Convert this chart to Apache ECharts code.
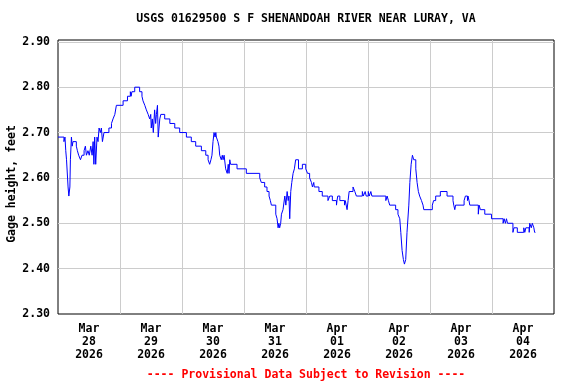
<!DOCTYPE html>
<html><head><meta charset="utf-8">
<script src="https://cdn.jsdelivr.net/npm/echarts@6/dist/echarts.min.js"></script>
<style>html,body{margin:0;padding:0;background:#fff}#c{width:576px;height:384px}</style>
</head><body><div id="c"></div>
<script>
const chartTitle = 'USGS 01629500 S F SHENANDOAH RIVER NEAR LURAY, VA';
const yName = 'Gage height, feet';
const footer = '---- Provisional Data Subject to Revision ----';
// one label per day; the x scale is in hours from 2026-03-28 00:00
const dayLabels = ['Mar\n28\n2026','Mar\n29\n2026','Mar\n30\n2026','Mar\n31\n2026','Apr\n01\n2026','Apr\n02\n2026','Apr\n03\n2026','Apr\n04\n2026'];
const yTicks = [2.30, 2.40, 2.50, 2.60, 2.70, 2.80, 2.90];
// hours since 2026-03-28 00:00 at which the reading changes
const hours = [
  0, 2.3, 2.7, 3.0, 3.3, 3.9, 4.2, 4.6, 4.8, 5.2, 5.5, 5.8, 7.1, 7.5, 8.0, 8.7, 9.3, 10.1, 10.6, 11.0,
  11.6, 12.1, 12.7, 13.2, 13.6, 13.9, 14.2, 14.6, 15.1, 15.5, 15.9, 16.4, 16.8, 17.2, 17.8, 19.7, 20.7, 21.3, 22.0, 22.6,
  25.2, 26.9, 28.0, 28.3, 28.6, 29.7, 31.6, 32.5, 32.9, 33.6, 34.2, 34.9, 35.5, 35.9, 36.1, 36.5, 36.9, 37.4, 37.8, 38.1,
  38.5, 38.8, 39.4, 39.8, 41.3, 43.3, 45.2, 47.1, 49.7, 51.6, 53.3, 55.5, 57.2, 58.1, 58.7, 59.2, 59.6, 60.0, 60.4, 60.8,
  61.1, 61.3, 61.9, 62.3, 62.6, 63.2, 63.6, 63.9, 64.3, 64.9, 65.5, 65.9, 66.2, 66.5, 66.8, 69.3, 72.9, 78.1, 78.7, 80.0,
  80.9, 81.7, 82.2, 82.6, 84.3, 84.8, 85.2, 85.5, 85.8, 86.2, 86.5, 87.1, 87.8, 88.2, 88.7, 89.1, 89.4, 89.7, 90.1, 90.5,
  91.0, 91.5, 92.0, 93.1, 94.6, 95.9, 96.6, 97.4, 98.1, 98.5, 99.0, 99.2, 101.0, 102.3, 104.5, 105.2, 106.2, 107.8, 108.0, 108.3,
  109.1, 110.9, 111.2, 111.9, 112.3, 112.7, 114.2, 114.9, 115.5, 117.8, 118.2, 118.9, 119.3, 120.1, 120.5, 121.1, 121.5, 126.9, 127.4, 127.9,
  128.4, 130.7, 131.6, 132.3, 132.7, 133.2, 133.7, 134.1, 134.6, 135.1, 135.8, 136.2, 136.7, 137.2, 137.7, 138.5, 139.0, 139.5, 140.0, 140.7,
  141.3, 141.6, 144.9, 145.4, 146.2, 148.0, 150.6, 152.9, 153.2, 153.6, 153.9, 157.2, 157.7, 158.5, 158.7, 159.1, 159.4, 162.7, 163.0, 163.5,
  165.2, 167.8, 172.3, 172.7, 173.2, 173.6, 174.0, 176.1, 176.5, 177.8, 180.3, 180.7, 181.1, 182.4, 182.6, 183.2, 183.6, 184.2, 184.5, 184.8
];
// gage height, feet
const gage = [
  2.69, 2.68, 2.69, 2.66, 2.64, 2.58, 2.56, 2.58, 2.64, 2.69, 2.67, 2.68, 2.67, 2.66, 2.65, 2.64, 2.65, 2.66, 2.67, 2.65,
  2.66, 2.65, 2.67, 2.65, 2.68, 2.63, 2.69, 2.63, 2.69, 2.68, 2.71, 2.70, 2.71, 2.68, 2.70, 2.71, 2.72, 2.73, 2.74, 2.76,
  2.77, 2.78, 2.79, 2.78, 2.79, 2.80, 2.79, 2.78, 2.77, 2.76, 2.75, 2.74, 2.73, 2.74, 2.71, 2.73, 2.70, 2.75, 2.72, 2.74,
  2.76, 2.69, 2.73, 2.74, 2.73, 2.72, 2.71, 2.70, 2.69, 2.68, 2.67, 2.66, 2.65, 2.64, 2.63, 2.64, 2.65, 2.68, 2.70, 2.69,
  2.70, 2.69, 2.68, 2.67, 2.65, 2.64, 2.65, 2.64, 2.65, 2.62, 2.61, 2.63, 2.61, 2.64, 2.63, 2.62, 2.61, 2.60, 2.59, 2.58,
  2.57, 2.56, 2.55, 2.54, 2.52, 2.51, 2.49, 2.50, 2.49, 2.50, 2.52, 2.53, 2.56, 2.54, 2.57, 2.55, 2.56, 2.51, 2.57, 2.59,
  2.61, 2.62, 2.64, 2.62, 2.63, 2.62, 2.61, 2.60, 2.59, 2.58, 2.59, 2.58, 2.57, 2.56, 2.55, 2.56, 2.55, 2.54, 2.55, 2.56,
  2.55, 2.54, 2.55, 2.53, 2.55, 2.57, 2.58, 2.57, 2.56, 2.57, 2.56, 2.57, 2.56, 2.57, 2.56, 2.57, 2.56, 2.55, 2.56, 2.55,
  2.54, 2.53, 2.52, 2.51, 2.48, 2.44, 2.42, 2.41, 2.42, 2.48, 2.54, 2.59, 2.63, 2.65, 2.64, 2.62, 2.59, 2.57, 2.56, 2.55,
  2.54, 2.53, 2.54, 2.55, 2.56, 2.57, 2.56, 2.55, 2.54, 2.53, 2.54, 2.55, 2.56, 2.55, 2.56, 2.55, 2.54, 2.52, 2.54, 2.53,
  2.52, 2.51, 2.50, 2.51, 2.50, 2.51, 2.50, 2.48, 2.49, 2.48, 2.49, 2.48, 2.49, 2.48, 2.50, 2.49, 2.50, 2.49, 2.48, 2.48
];

const FONT = '"DejaVu Sans Mono", monospace';
const chart = echarts.init(document.getElementById('c'), null, {renderer: 'canvas'});
chart.setOption({
  animation: false,
  backgroundColor: '#fff',
  grid: {left: 58, top: 40, width: 496, height: 274, outerBoundsMode: 'none', containLabel: false,
         show: true, borderColor: '#000', borderWidth: 1, backgroundColor: 'transparent'},
  xAxis: [
    {type: 'value', min: 0, max: 192, interval: 24,
     axisLine: {show: false}, axisTick: {show: false}, axisLabel: {show: false},
     splitLine: {show: true, showMinLine: false, showMaxLine: false, lineStyle: {color: '#cccccc', width: 1}}},
    {type: 'category', data: dayLabels, boundaryGap: true, position: 'bottom',
     axisLine: {show: false}, axisTick: {show: false}, splitLine: {show: false},
     axisLabel: {margin: 9, lineHeight: 12.7, fontFamily: FONT, fontWeight: 'bold', fontSize: 11.5, color: '#000'}}
  ],
  yAxis: {
    type: 'value', min: 2.30, max: 2.904, interval: 0.1,
    name: yName, nameLocation: 'middle', nameGap: 40, nameMoveOverlap: false,
    nameTextStyle: {fontFamily: FONT, fontWeight: 'bold', fontSize: 11.5, color: '#000', padding: [0, 14, 0, 0]},
    axisLine: {show: false}, axisTick: {show: false},
    axisLabel: {margin: 8, fontFamily: FONT, fontWeight: 'bold', fontSize: 11.5, color: '#000', showMaxLabel: false,
      formatter: v => yTicks.some(t => Math.abs(t - v) < 1e-6) ? v.toFixed(2) : ''},
    splitLine: {show: true, showMinLine: false, showMaxLine: false, lineStyle: {color: '#cccccc', width: 1}}
  },
  graphic: [
    {type: 'text', x: 306, y: 19, z: 10, style: {text: chartTitle, fill: '#000', font: 'bold 11.5px ' + FONT, textAlign: 'center', textVerticalAlign: 'middle'}},
    {type: 'text', x: 306, y: 375, z: 10, style: {text: footer, fill: '#ff0000', font: 'bold 11.5px ' + FONT, textAlign: 'center', textVerticalAlign: 'middle'}}
  ],
  series: [{
    type: 'line', xAxisIndex: 0, step: 'end', showSymbol: false, symbol: 'none',
    lineStyle: {color: '#0000ff', width: 1}, z: 3,
    data: hours.map((h, i) => [h, gage[i]])
  }]
});
</script></body></html>
